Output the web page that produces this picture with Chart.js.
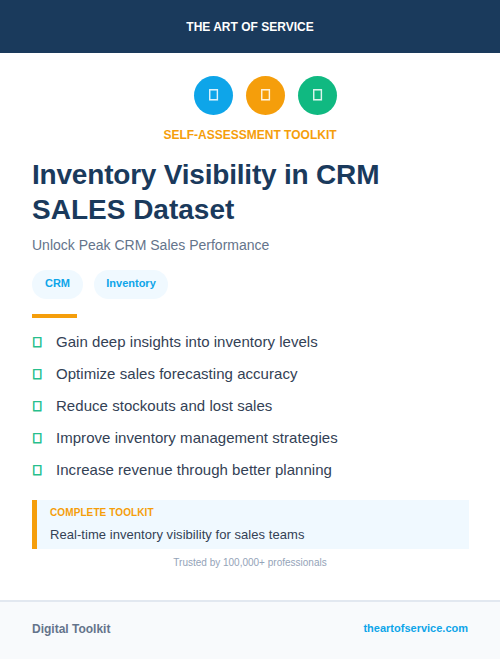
<!DOCTYPE html>
<html>
<head>
<meta charset="utf-8">
<script src="https://cdn.jsdelivr.net/npm/chart.js@4/dist/chart.umd.js"></script>
<style>
html, body { margin: 0; padding: 0; background: #fff; }
body { width: 500px; height: 659px; position: relative; overflow: hidden; font-family: "Liberation Sans", sans-serif; }
.abs { position: absolute; white-space: nowrap; }
#header { left: 0; top: 0; width: 500px; height: 53px; background: #1a3a5c; color: #fff; font-size: 12px; font-weight: 700; line-height: 54px; text-align: center; }
#icons { left: 187px; top: 75px; width: 157px; height: 41px; }
#iconChart { display: block; }
.glyph { width: 53px; text-align: center; color: #fff; font-size: 15px; font-weight: 700; -webkit-text-stroke: 0.8px #fff; line-height: 20px; top: 85px; opacity: .85; }
#kicker { left: 0; width: 500px; top: 128px; text-align: center; color: #f59e0b; font-size: 12px; font-weight: 700; line-height: 15px; }
#title { left: 32px; top: 157px; color: #1a3a5c; font-size: 28px; font-weight: 700; line-height: 35px; }
#title span { display: block; }
#title span:first-child { letter-spacing: -0.2px; }
#subtitle { left: 32px; top: 236px; color: #64748b; font-size: 14px; line-height: 18px; }
.chip { top: 270px; height: 29px; line-height: 27px; border-radius: 15px; background: #f0f9ff; color: #0ea5e9; font-size: 11px; font-weight: 700; text-align: center; }
#rule { left: 32px; top: 314px; width: 45px; height: 4px; background: #f59e0b; }
.tick { left: 32px; color: #10b981; font-size: 14px; font-weight: 700; -webkit-text-stroke: 0.8px #10b981; line-height: 20px; opacity: .9; }
.point { left: 56px; color: #334155; font-size: 15px; letter-spacing: 0.04px; line-height: 20px; }
#callout { left: 32px; top: 500px; width: 432px; height: 49px; background: #f0f9ff; border-left: 5px solid #f59e0b; }
#calloutLabel { left: 50px; top: 506px; color: #f59e0b; font-size: 10px; font-weight: 700; letter-spacing: 0.1px; line-height: 13px; }
#calloutText { left: 50px; top: 526px; color: #334155; font-size: 13px; letter-spacing: 0.05px; line-height: 17px; }
#trusted { left: 0; width: 500px; top: 556px; text-align: center; color: #94a3b8; font-size: 10px; line-height: 13px; }
#footer { left: 0; top: 600px; width: 500px; height: 57px; background: #f8fafc; border-top: 2px solid #e2e8f0; }
#footLeft { left: 32px; top: 621px; color: #64748b; font-size: 12px; font-weight: 700; line-height: 16px; }
#footRight { right: 32px; top: 620px; color: #0ea5e9; font-size: 11px; font-weight: 700; line-height: 16px; }
</style>
</head>
<body>
<div class="abs" id="header"></div>
<div class="abs" id="icons"><canvas id="iconChart" width="157" height="41"></canvas></div>
<div class="abs" id="kicker"></div>
<div class="abs" id="title"></div>
<div class="abs" id="subtitle"></div>
<div class="abs" id="rule"></div>
<div class="abs" id="callout"></div>
<div class="abs" id="calloutLabel"></div>
<div class="abs" id="calloutText"></div>
<div class="abs" id="trusted"></div>
<div class="abs" id="footer"></div>
<div class="abs" id="footLeft"></div>
<div class="abs" id="footRight"></div>
<script>
const brand = "THE ART OF SERVICE";
const kicker = "SELF-ASSESSMENT TOOLKIT";
const titleLines = ["Inventory Visibility in CRM", "SALES Dataset"];
const subtitle = "Unlock Peak CRM Sales Performance";
const tags = ["CRM", "Inventory"];
const bullets = [
    "Gain deep insights into inventory levels",
    "Optimize sales forecasting accuracy",
    "Reduce stockouts and lost sales",
    "Improve inventory management strategies",
    "Increase revenue through better planning"
];
const calloutLabel = "COMPLETE TOOLKIT";
const calloutText = "Real-time inventory visibility for sales teams";
const trusted = "Trusted by 100,000+ professionals";
const footLeft = "Digital Toolkit";
const footRight = "theartofservice.com";

// the three badges
const iconLabels = ["a", "b", "c"];
const iconValues = [1, 1, 1];
const iconColors = ["#0ea5e9", "#f59e0b", "#10b981"];

function setText(id, text) {
    document.getElementById(id).textContent = text;
}

function addDiv(cls, text, left, top, width) {
    let d = document.createElement('div');
    d.className = 'abs ' + cls;
    d.textContent = text;
    if (left !== null) d.style.left = left + 'px';
    if (top !== null) d.style.top = top + 'px';
    if (width) d.style.width = width + 'px';
    document.body.appendChild(d);
}

setText('header', brand);
setText('kicker', kicker);
titleLines.forEach(function(line) {
    let s = document.createElement('span');
    s.textContent = line;
    document.getElementById('title').appendChild(s);
});
setText('subtitle', subtitle);
setText('calloutLabel', calloutLabel);
setText('calloutText', calloutText);
setText('trusted', trusted);
setText('footLeft', footLeft);
setText('footRight', footRight);

addDiv('chip', tags[0], 32, null, 51);
addDiv('chip', tags[1], 94, null, 74);

bullets.forEach(function(b, i) {
    addDiv('tick', '\uf00c', null, 332 + i * 32);
    addDiv('point', b, null, 332 + i * 32);
});

iconLabels.forEach(function(l, i) {
    addDiv('glyph', '\uf080', 187 + i * 52, null);
});

new Chart(document.getElementById('iconChart').getContext('2d'), {
    type: 'line',
    data: {
        labels: iconLabels,
        datasets: [{
            data: iconValues,
            showLine: false,
            pointRadius: 19.5,
            pointHoverRadius: 19.5,
            pointBorderWidth: 0,
            pointBackgroundColor: iconColors,
            clip: false
        }]
    },
    options: {
        responsive: false,
        animation: false,
        events: [],
        layout: { autoPadding: false, padding: { left: 0.5, right: 0.5, top: 0, bottom: 0 } },
        plugins: { legend: { display: false }, tooltip: { enabled: false } },
        scales: {
            x: { display: false, offset: true },
            y: { display: false, min: 0, max: 2 }
        }
    }
});
</script>
</body>
</html>
